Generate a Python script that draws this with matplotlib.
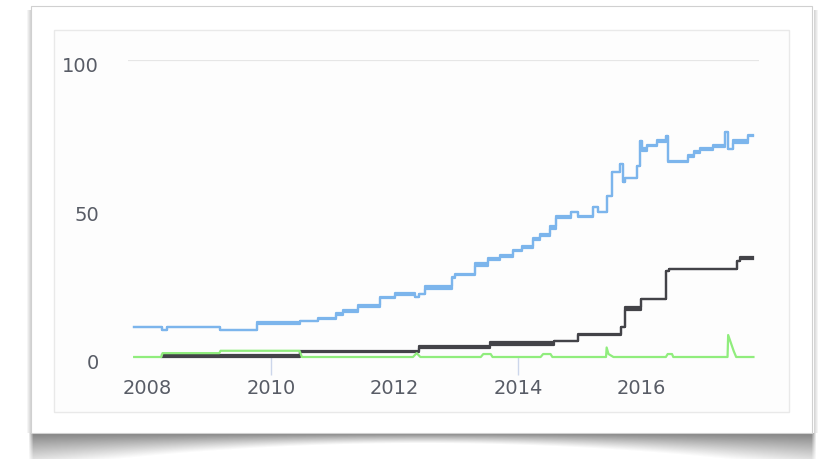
import numpy as np
import matplotlib
matplotlib.use("Agg")
import matplotlib.pyplot as plt
from matplotlib.patches import Rectangle
from matplotlib.transforms import ScaledTranslation

# ---------------- data ----------------
# Blue series (step, decimal years): low / high envelope of the jittery line
blue_t = [2007.78, 2008.23, 2008.31, 2009.17, 2009.77, 2010.47, 2010.76, 2011.06, 2011.16,
          2011.41, 2011.77, 2012.01, 2012.33, 2012.40, 2012.50, 2012.93, 2012.98, 2013.31,
          2013.52, 2013.71, 2013.92, 2014.06, 2014.25, 2014.36, 2014.52, 2014.62, 2014.87,
          2014.98, 2015.22, 2015.30, 2015.44, 2015.52, 2015.66, 2015.70, 2015.74, 2015.93,
          2015.98, 2016.01, 2016.09, 2016.25, 2016.41, 2016.44, 2016.76, 2016.86, 2016.95,
          2017.17, 2017.36, 2017.41, 2017.49, 2017.73, 2017.82]
blue_lo = [10.0, 9.1, 10.0, 9.1, 11.2, 12.0, 12.8, 14.3, 15.3,
           16.9, 19.8, 20.8, 20.2, 21.2, 22.8, 26.6, 27.6, 30.8,
           32.8, 33.6, 35.6, 36.6, 39.4, 40.6, 43.2, 46.9, 48.7,
           47.0, 50.5, 48.8, 54.2, 62.3, 65.0, 58.8, 60.3, 64.4,
           72.8, 69.5, 71.0, 72.5, 74.5, 65.5, 67.5, 68.6, 69.8,
           70.8, 75.6, 70.0, 72.1, 74.3, 74.3]
blue_hi = [10.0, 9.1, 10.0, 9.1, 11.8, 12.0, 13.2, 14.8, 15.7,
           17.6, 20.3, 21.6, 20.2, 21.2, 23.8, 27.1, 28.1, 31.6,
           33.5, 34.3, 36.1, 37.3, 40.1, 41.3, 44.0, 47.5, 48.7,
           47.5, 50.5, 48.8, 54.2, 62.3, 65.0, 58.8, 60.3, 64.4,
           72.8, 70.4, 71.5, 73.2, 74.5, 66.1, 68.1, 69.2, 70.5,
           71.5, 75.6, 70.0, 72.9, 74.9, 74.9]

# Dark series (step)
black_t = [2008.23, 2010.47, 2012.39, 2013.55, 2014.58, 2014.98, 2015.68, 2015.74,
           2016.00, 2016.41, 2016.45, 2017.55, 2017.60, 2017.82]
black_lo = [0.1, 1.8, 2.9, 4.0, 5.5, 7.5, 10.0, 15.8, 19.5, 29.1, 29.6, 32.2, 32.9, 32.9]
black_hi = [0.6, 2.1, 3.6, 4.9, 5.5, 7.9, 10.0, 16.8, 19.5, 29.1, 29.6, 32.2, 33.7, 33.7]

# Green series (linear)
green_t = [2007.78, 2008.22, 2008.24, 2009.16, 2009.18, 2010.46, 2010.50, 2012.30, 2012.36,
           2012.42, 2013.40, 2013.44, 2013.56, 2013.59, 2014.37, 2014.41, 2014.53, 2014.56,
           2015.43, 2015.44, 2015.47, 2015.55, 2016.40, 2016.43, 2016.50, 2016.52, 2017.40,
           2017.41, 2017.45, 2017.50, 2017.54, 2017.82]
green_v = [0.0, 0.0, 1.3, 1.3, 2.1, 2.1, 0.0, 0.0, 1.3,
           0.0, 0.0, 1.0, 1.0, 0.0, 0.0, 1.0, 1.0, 0.0,
           0.0, 3.2, 1.0, 0.0, 0.0, 1.0, 1.0, 0.0, 0.0,
           7.4, 5.0, 2.0, 0.0, 0.0]

x_ticks = [2008, 2010, 2012, 2014, 2016]
x_tick_labels = ["2008", "2010", "2012", "2014", "2016"]
x_minor_ticks = [2010, 2014]
y_ticks = [0, 50, 100]
y_tick_labels = ["0", "50", "100"]

BLUE = "#7cb5ec"
DARK = "#434348"
GREEN = "#90ed7d"

# ---------------- figure ----------------
W, H = 822, 460
fig = plt.figure(figsize=(W / 100, H / 100), dpi=100, facecolor="white")

# background / card layer (pixel coordinates, y downwards)
bg = fig.add_axes([0, 0, 1, 1])
bg.set_xlim(0, W)
bg.set_ylim(H, 0)
bg.axis("off")

# curved drop shadow below the card
yy, xx = np.mgrid[0:H, 0:W].astype(float)
card_l, card_r, card_t, card_b = 31, 812, 7, 434
u = (xx - (card_l + card_r) / 2) / ((card_r - card_l) / 2)
depth = 10 + 26 * u ** 2
dy = yy - card_b
alpha = np.where(dy >= 0, np.clip(1 - dy / depth, 0, 1) ** 1.1 * 0.72, 0)
hfade = np.clip((xx - (card_l - 3)) / 5, 0, 1) * np.clip(((card_r + 3) - xx) / 5, 0, 1)
alpha *= hfade
# side shadows
left_a = np.where((xx < card_l) & (yy > card_t + 3) & (yy < card_b),
                  np.clip(1 - (card_l - xx) / 5, 0, 1) * 0.3, 0)
right_a = np.where((xx > card_r) & (yy > card_t + 3) & (yy < card_b),
                   np.clip(1 - (xx - card_r) / 5, 0, 1) * 0.3, 0)
alpha = np.maximum(alpha, np.maximum(left_a, right_a))
rgba = np.zeros((H, W, 4))
rgba[..., :3] = 0.33
rgba[..., 3] = alpha
bg.imshow(rgba, extent=(0, W, H, 0), aspect="auto", interpolation="bilinear", zorder=0)

bg.add_patch(Rectangle((card_l, card_t), card_r - card_l, card_b - card_t,
                       fc="white", ec="#d0d0d0", lw=0.8, zorder=1))
bg.add_patch(Rectangle((54, 31), 735, 382, fc="#fdfdfd", ec="#e9e9e9", lw=1.0, zorder=2))

# plot axes
ax_left, ax_right, ax_top, ax_bottom = 128, 759, 61, 358
ax = fig.add_axes([ax_left / W, (H - ax_bottom) / H,
                   (ax_right - ax_left) / W, (ax_bottom - ax_top) / H])
ax.patch.set_visible(False)
for s in ax.spines.values():
    s.set_visible(False)
ax.set_xlim(2007.68, 2017.91)
ax.set_ylim(0, 100)

ax.set_yticks(y_ticks)
ax.set_yticklabels(y_tick_labels)
ax.set_xticks(x_ticks)
ax.set_xticklabels(x_tick_labels)
ax.xaxis.remove_overlapping_locs = False
ax.set_xticks(x_minor_ticks, minor=True)
ax.tick_params(axis="both", which="major", length=0, labelsize=14, labelcolor="#585c66")
ax.tick_params(axis="y", pad=21)
ax.tick_params(axis="x", pad=15)
ax.tick_params(axis="x", which="minor", length=13, width=1.0, color="#ccd6eb", direction="out")
ax.tick_params(axis="y", which="minor", length=0)

ax.yaxis.grid(True, color="#e6e6e6", lw=1.6)
gls = ax.yaxis.get_gridlines()
for gl, v in zip(gls, y_ticks):
    gl.set_visible(v == max(y_ticks))

off = ScaledTranslation(0, -4 / 100, fig.dpi_scale_trans)
for lab in ax.get_yticklabels():
    lab.set_transform(lab.get_transform() + off)

# series
LW = 1.6
ax.fill_between(blue_t, blue_lo, blue_hi, step="post", color=BLUE, lw=0, clip_on=False, zorder=3)
ax.step(blue_t, blue_lo, where="post", color=BLUE, lw=LW, clip_on=False, zorder=3)
ax.step(blue_t, blue_hi, where="post", color=BLUE, lw=LW, clip_on=False, zorder=3)

ax.fill_between(black_t, black_lo, black_hi, step="post", color=DARK, lw=0, clip_on=False, zorder=4)
ax.step(black_t, black_lo, where="post", color=DARK, lw=LW, clip_on=False, zorder=4)
ax.step(black_t, black_hi, where="post", color=DARK, lw=LW, clip_on=False, zorder=4)

ax.plot(green_t, green_v, color=GREEN, lw=LW, clip_on=False, zorder=5)

fig.savefig("out.png", dpi=100, facecolor="white")
